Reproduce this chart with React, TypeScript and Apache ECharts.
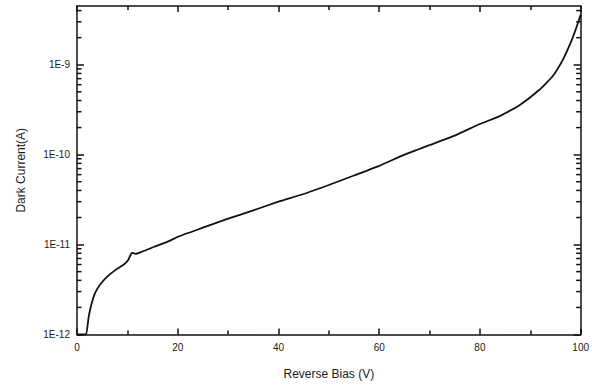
import React, { useEffect, useRef } from "react";
import * as echarts from "echarts";

// Reverse bias (V)
const biasV = [
  0, 1, 1.8, 2.3, 2.8, 3.6, 4.6, 6.0, 7.6, 9.3, 10.2, 10.9, 11.6, 12.6, 15.2, 17.9,
  20, 25, 30, 35, 40, 45, 50, 55, 60, 65, 70, 75, 80, 84, 88, 91.7, 94.4, 96.4, 98, 99, 100,
];
// Dark current (A)
const darkCurrentA = [
  1e-12, 1e-12, 1e-12, 1.55e-12, 2.1e-12, 2.9e-12, 3.6e-12, 4.4e-12, 5.2e-12, 6.0e-12, 6.8e-12,
  8.1e-12, 7.9e-12, 8.2e-12, 9.4e-12, 1.07e-11,
  1.22e-11, 1.54e-11, 1.94e-11, 2.4e-11, 3.0e-11, 3.65e-11, 4.6e-11, 5.86e-11, 7.5e-11,
  1.0e-10, 1.28e-10, 1.63e-10, 2.19e-10, 2.7e-10, 3.6e-10, 5.2e-10, 7.4e-10, 1.12e-9,
  1.75e-9, 2.45e-9, 3.6e-9,
];
// Decade exponents used as y tick labels (1E-12 ... 1E-9)
const decadeExponents = [-12, -11, -10, -9];
const yMinValue = 1e-12;
const yMaxValue = 4.5e-9;
const xMin = 0;
const xMax = 100;

const FONT = "'Liberation Sans', Arial, sans-serif";
const TEXT = "#1a1a1a";
const LINE = "#111";

export default function App() {
  const ref = useRef<HTMLDivElement>(null);
  useEffect(() => {
    if (!ref.current) return;
    const chart = echarts.init(ref.current, null, { renderer: "svg" });
    const yMin = Math.log10(yMinValue);
    const yMax = Math.log10(yMaxValue);
    const minorVals: number[] = [];
    decadeExponents.forEach((n) => {
      for (let k = 2; k <= 9; k++) {
        const v = n + Math.log10(k);
        if (v <= yMax) minorVals.push(v);
      }
    });
    const data = biasV.map((v, i) => [v, Math.log10(darkCurrentA[i])]);
    const mkLine = () => ({ show: true, onZero: false, lineStyle: { color: LINE, width: 1.5 } });
    const tickStyle = () => ({ color: LINE, width: 1.5 });
    const xAxisBase = (position: "bottom" | "top") => ({
      type: "value",
      min: xMin,
      max: xMax,
      interval: 20,
      position,
      splitLine: { show: false },
      axisLine: mkLine(),
      axisTick: { show: true, inside: true, length: 6, lineStyle: tickStyle() },
      minorTick: { show: true, splitNumber: 2, length: 4, lineStyle: tickStyle() },
    });
    const yAxisBase = (position: "left" | "right") => ({
      type: "value",
      min: yMin,
      max: yMax,
      position,
      splitLine: { show: false },
      axisLine: mkLine(),
      axisTick: {
        show: true,
        inside: true,
        length: 7,
        customValues: decadeExponents,
        lineStyle: tickStyle(),
      },
      axisLabel: { show: false },
    });
    chart.setOption({
      animation: false,
      backgroundColor: "#fff",
      grid: { left: 77, right: 10, top: 6, bottom: 50.5 },
      xAxis: [
        {
          ...xAxisBase("bottom"),
          axisLabel: { color: TEXT, fontFamily: FONT, fontSize: 10, margin: 8 },
          name: "Reverse Bias (V)",
          nameLocation: "middle",
          nameGap: 33,
          nameTextStyle: { color: TEXT, fontFamily: FONT, fontSize: 12 },
        },
        { ...xAxisBase("top"), axisLabel: { show: false } },
      ],
      yAxis: [
        {
          ...yAxisBase("left"),
          axisLabel: {
            show: true,
            customValues: decadeExponents,
            formatter: (v: number) => `1E${Math.round(v)}`,
            color: TEXT,
            fontFamily: FONT,
            fontSize: 10,
            margin: 7,
          },
          name: "Dark Current(A)",
          nameLocation: "middle",
          nameGap: 50,
          nameTextStyle: { color: TEXT, fontFamily: FONT, fontSize: 12 },
        },
        yAxisBase("right"),
      ],
      series: [
        {
          type: "custom",
          xAxisIndex: 0,
          yAxisIndex: 0,
          silent: true,
          clip: false,
          data: minorVals.map((v) => [xMin, v]),
          renderItem: (_params: any, api: any) => {
            const l = api.coord([xMin, api.value(1)]);
            const r = api.coord([xMax, api.value(1)]);
            const style = { stroke: LINE, lineWidth: 1.5 };
            return {
              type: "group",
              children: [
                { type: "line", shape: { x1: l[0], y1: l[1], x2: l[0] + 4.5, y2: l[1] }, style },
                { type: "line", shape: { x1: r[0] - 4.5, y1: r[1], x2: r[0], y2: r[1] }, style },
              ],
            };
          },
        },
        {
          type: "line",
          xAxisIndex: 0,
          yAxisIndex: 0,
          data,
          showSymbol: false,
          symbol: "none",
          smooth: 0.15,
          lineStyle: { color: LINE, width: 1.8 },
          clip: true,
        },
      ],
    });
    return () => chart.dispose();
  }, []);
  return (
    <div
      ref={ref}
      style={{ position: "fixed", left: 0, top: 0, width: 592, height: 385 }}
    />
  );
}
